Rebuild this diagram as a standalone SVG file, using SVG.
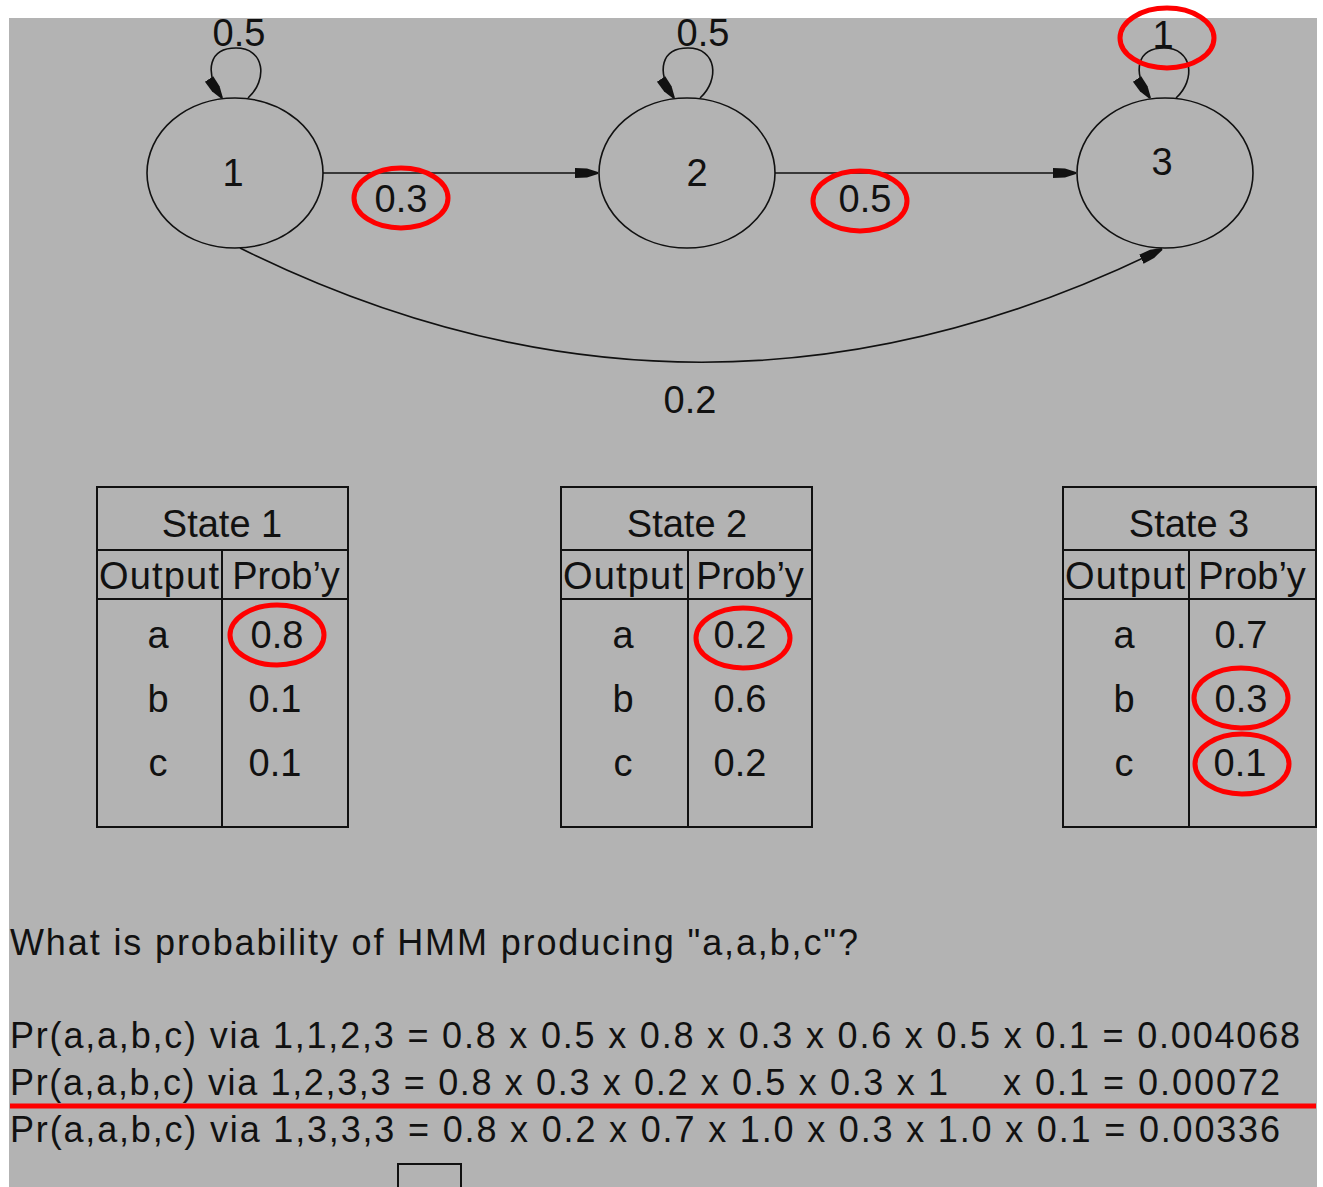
<svg xmlns="http://www.w3.org/2000/svg" width="1323" height="1187" viewBox="0 0 1323 1187">
<style>
  text { font-family: "Liberation Sans", Arial, Helvetica, sans-serif; fill: #111; }
  .big { font-size: 38px; text-anchor: middle; }
  .line { font-size: 36px; }
  .node { fill: none; stroke: #111; stroke-width: 1.6; }
  .edge { fill: none; stroke: #111; stroke-width: 1.6; }
  .tbl { fill: none; stroke: #111; stroke-width: 2; }
  .mark { fill: none; stroke: #f00; stroke-width: 5; }
</style>
<defs>
  <marker id="arrow" markerUnits="userSpaceOnUse" markerWidth="24" markerHeight="12" viewBox="0 0 24 12" refX="23" refY="6" orient="auto">
    <path d="M0,1 L12,1.5 L23,5 L23,7 L12,10.5 L0,11 z" fill="#111"/>
  </marker>
</defs>
<rect x="0" y="0" width="1323" height="1187" fill="#fff"/>
<rect x="9" y="18" width="1308" height="1169" fill="#b3b3b3"/>

<g id="connectors">
  <path class="edge" d="M 248 98 C 268 80, 265 48, 236 48 C 210 48, 203 70, 222 98" marker-end="url(#arrow)"/>
  <path class="edge" d="M 700 98 C 720 80, 717 48, 688 48 C 662 48, 655 70, 674 98" marker-end="url(#arrow)"/>
  <path class="edge" d="M 1176 98 C 1196 80, 1193 48, 1164 48 C 1138 48, 1131 70, 1150 98" marker-end="url(#arrow)"/>
  <path class="edge" d="M 323 173 L 598 173" marker-end="url(#arrow)"/>
  <path class="edge" d="M 775 173 L 1076 173" marker-end="url(#arrow)"/>
  <path class="edge" d="M 240 248 Q 700 476 1162 249" marker-end="url(#arrow)"/>
  <text class="big" x="239" y="46">0.5</text>
  <text class="big" x="703" y="46">0.5</text>
  <text class="big" x="1163" y="48">1</text>
  <text class="big" x="401" y="212">0.3</text>
  <text class="big" x="865" y="212">0.5</text>
  <text class="big" x="690" y="413">0.2</text>
</g>

<g id="node1">
  <ellipse class="node" cx="235" cy="173" rx="88" ry="75"/>
  <text class="big" x="233" y="186">1</text>
</g>
<g id="node2">
  <ellipse class="node" cx="687" cy="173" rx="88" ry="75"/>
  <text class="big" x="697" y="186">2</text>
</g>
<g id="node3">
  <ellipse class="node" cx="1165" cy="173" rx="88" ry="75"/>
  <text class="big" x="1162" y="175">3</text>
</g>

<g id="table1">
  <rect class="tbl" x="97" y="487" width="251" height="340"/>
  <line class="tbl" x1="97" y1="550" x2="348" y2="550"/>
  <line class="tbl" x1="97" y1="599" x2="348" y2="599"/>
  <line class="tbl" x1="222" y1="550" x2="222" y2="827"/>
  <text class="big" x="222" y="537">State 1</text>
  <text class="big" x="159" y="589" textLength="120">Output</text>
  <text class="big" x="286" y="589">Prob’y</text>
  <text class="big" x="158" y="648">a</text>
  <text class="big" x="158" y="712">b</text>
  <text class="big" x="158" y="776">c</text>
  <text class="big" x="277" y="648">0.8</text>
  <text class="big" x="275" y="712">0.1</text>
  <text class="big" x="275" y="776">0.1</text>
</g>
<g id="table2">
  <rect class="tbl" x="561" y="487" width="251" height="340"/>
  <line class="tbl" x1="561" y1="550" x2="812" y2="550"/>
  <line class="tbl" x1="561" y1="599" x2="812" y2="599"/>
  <line class="tbl" x1="688" y1="550" x2="688" y2="827"/>
  <text class="big" x="687" y="537">State 2</text>
  <text class="big" x="623" y="589" textLength="120">Output</text>
  <text class="big" x="750" y="589">Prob’y</text>
  <text class="big" x="623" y="648">a</text>
  <text class="big" x="623" y="712">b</text>
  <text class="big" x="623" y="776">c</text>
  <text class="big" x="740" y="648">0.2</text>
  <text class="big" x="740" y="712">0.6</text>
  <text class="big" x="740" y="776">0.2</text>
</g>
<g id="table3">
  <rect class="tbl" x="1063" y="487" width="253" height="340"/>
  <line class="tbl" x1="1063" y1="550" x2="1316" y2="550"/>
  <line class="tbl" x1="1063" y1="599" x2="1316" y2="599"/>
  <line class="tbl" x1="1189" y1="550" x2="1189" y2="827"/>
  <text class="big" x="1189" y="537">State 3</text>
  <text class="big" x="1125" y="589" textLength="120">Output</text>
  <text class="big" x="1252" y="589">Prob’y</text>
  <text class="big" x="1124" y="648">a</text>
  <text class="big" x="1124" y="712">b</text>
  <text class="big" x="1124" y="776">c</text>
  <text class="big" x="1241" y="648">0.7</text>
  <text class="big" x="1241" y="712">0.3</text>
  <text class="big" x="1240" y="776">0.1</text>
</g>

<g id="question">
  <text class="line" x="10" y="955" textLength="848">What is probability of HMM producing "a,a,b,c"?</text>
  <text class="line" x="10" y="1048" textLength="1290">Pr(a,a,b,c) via 1,1,2,3 = 0.8 x 0.5 x 0.8 x 0.3 x 0.6 x 0.5 x 0.1 = 0.004068</text>
  <text class="line" x="10" y="1095" textLength="938">Pr(a,a,b,c) via 1,2,3,3 = 0.8 x 0.3 x 0.2 x 0.5 x 0.3 x 1</text>
  <text class="line" x="1003" y="1095" textLength="277">x 0.1 = 0.00072</text>
  <text class="line" x="10" y="1142" textLength="1270">Pr(a,a,b,c) via 1,3,3,3 = 0.8 x 0.2 x 0.7 x 1.0 x 0.3 x 1.0 x 0.1 = 0.00336</text>
  <rect class="tbl" x="398" y="1164" width="63" height="40"/>
</g>

<g id="annotations">
  <ellipse class="mark" cx="1167" cy="38" rx="47" ry="30"/>
  <ellipse class="mark" cx="401" cy="198" rx="47" ry="30"/>
  <ellipse class="mark" cx="860" cy="201" rx="47" ry="30"/>
  <ellipse class="mark" cx="277" cy="635" rx="47" ry="30"/>
  <ellipse class="mark" cx="743" cy="638" rx="47" ry="30"/>
  <ellipse class="mark" cx="1241" cy="698" rx="47" ry="30"/>
  <ellipse class="mark" cx="1242" cy="764" rx="47" ry="30"/>
  <line x1="10" y1="1106" x2="1316" y2="1106" stroke="#f00" stroke-width="5"/>
</g>
</svg>
